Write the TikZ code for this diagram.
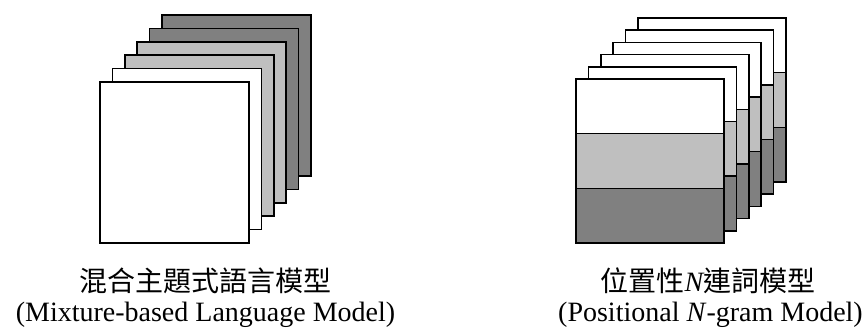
\documentclass[tikz,border=0pt]{standalone}
\usepackage{fontspec}
\setmainfont{Liberation Serif}
\newfontfamily\cjk{Noto Sans CJK TC}
\definecolor{darkgr}{gray}{0.5}
\definecolor{lightgr}{gray}{0.75}
\begin{document}
\begin{tikzpicture}[x=1pt,y=-1pt,
  sheet/.style={draw=black, line width=1.5pt, anchor=north west, inner sep=0pt, outer sep=0pt},
  lsheet/.style={sheet, minimum width=149pt, minimum height=161pt},
  band/.style={sheet, minimum width=148pt, minimum height=54.67pt},
  captxt/.style={anchor=base, inner sep=0pt, font=\fontsize{28pt}{32pt}\selectfont}]
\useasboundingbox (0,0) rectangle (868,331);
\foreach \i/\c in {5/darkgr,4/darkgr,3/lightgr,2/lightgr,1/white,0/white}{
  \node[lsheet, fill=\c] (L\i) at ({100+12.4*\i},{82-13.4*\i}) {};
}
\foreach \i in {5,4,3,2,1,0}{
  \node[band, fill=white] (RA\i) at ({576+12.4*\i},{79-12.2*\i}) {};
  \node[band, fill=lightgr] (RB\i) at (RA\i.south west) {};
  \node[band, fill=darkgr] (RC\i) at (RB\i.south west) {};
}
\node[captxt] (t1) at (205,292) {\cjk 混合主題式語言模型};
\node[captxt] (e1) at (205.5,322) {(Mixture-based Language Model)};
\node[captxt] (t2) at (708,292) {\cjk 位置性{\rmfamily\itshape N}連詞模型};
\node[captxt] (e2) at (710.5,322) {(Positional \textit{N}-gram Model)};
\end{tikzpicture}
\end{document}
